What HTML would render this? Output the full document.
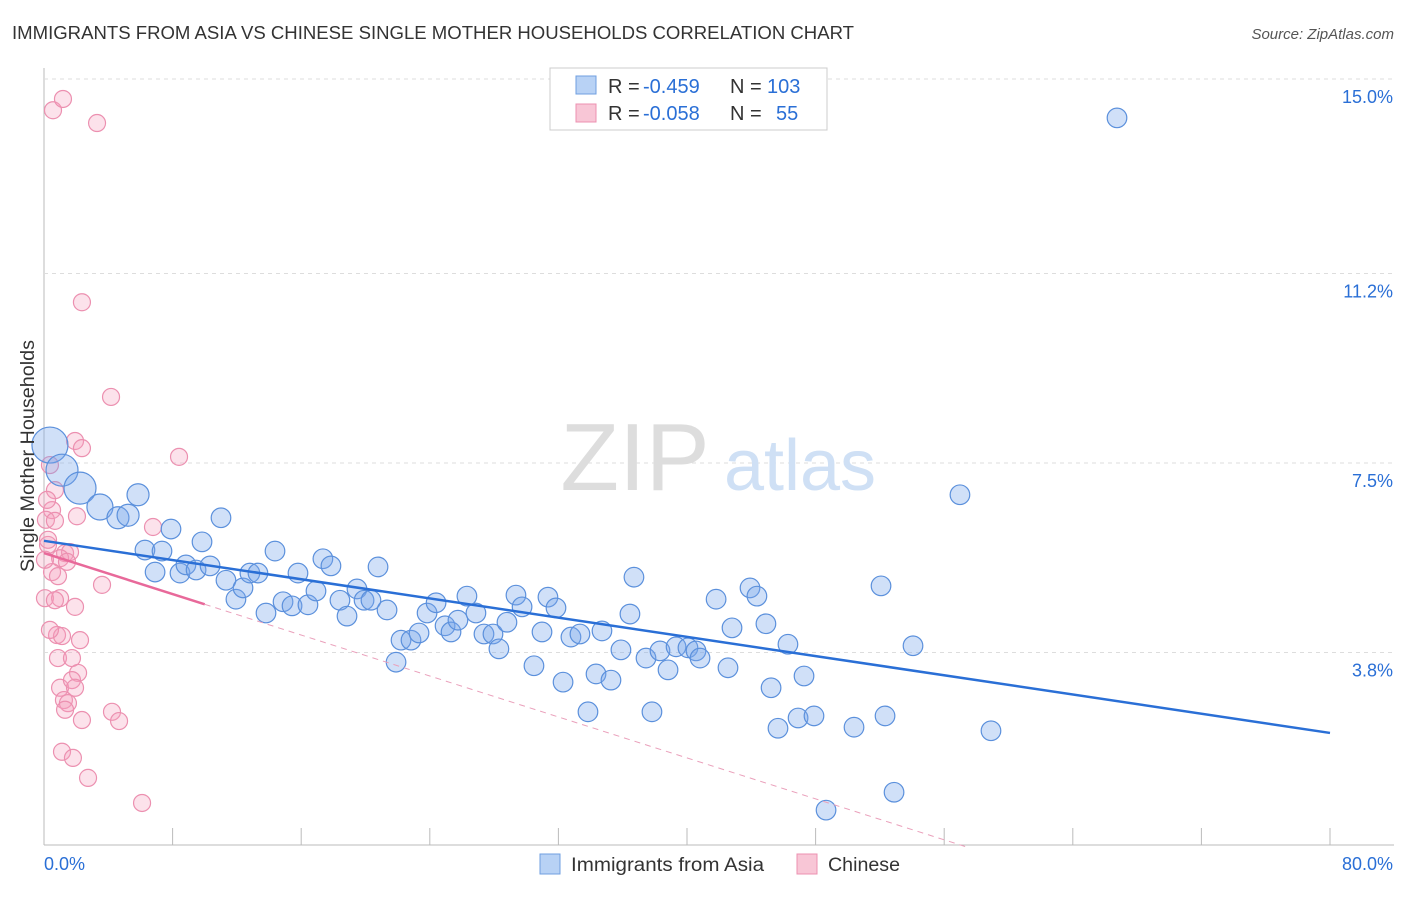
<!DOCTYPE html>
<html><head><meta charset="utf-8"><style>
body{margin:0;background:#fff;font-family:"Liberation Sans",sans-serif;}
svg text{font-family:"Liberation Sans",sans-serif;}
</style></head><body>
<svg id="chart" width="1406" height="892">
<text x="12" y="39" font-size="18" fill="#333" textLength="842" lengthAdjust="spacingAndGlyphs">IMMIGRANTS FROM ASIA VS CHINESE SINGLE MOTHER HOUSEHOLDS CORRELATION CHART</text>
<text x="1394" y="39" font-size="15" fill="#555" text-anchor="end" font-style="italic">Source: ZipAtlas.com</text>
<g id="grid"></g>
<text x="635" y="490" font-size="96" fill="#ddd" text-anchor="middle" font-family="Liberation Serif">ZIP</text>
<text x="800" y="490" font-size="72" fill="#cfe0f5" text-anchor="middle">atlas</text>
<g id="marks"></g>
<text transform="translate(34,456) rotate(-90)" font-size="19" fill="#333" text-anchor="middle" textLength="232" lengthAdjust="spacingAndGlyphs">Single Mother Households</text>
<g>
<rect x="550" y="68" width="277" height="62" fill="#fff" stroke="#ccc"/>
<rect x="576" y="76" width="20" height="18" fill="#b8d2f5" stroke="#6f9fe0"/>
<text x="608" y="93" font-size="20" fill="#333">R =</text>
<text x="643" y="93" font-size="20" fill="#2a6fd6">-0.459</text>
<text x="730" y="93" font-size="20" fill="#333">N =</text>
<text x="767" y="93" font-size="20" fill="#2a6fd6">103</text>
<rect x="576" y="104" width="20" height="18" fill="#f8c6d6" stroke="#ec90b0"/>
<text x="608" y="120" font-size="20" fill="#333">R =</text>
<text x="643" y="120" font-size="20" fill="#2a6fd6">-0.058</text>
<text x="730" y="120" font-size="20" fill="#333">N =</text>
<text x="776" y="120" font-size="20" fill="#2a6fd6">55</text>
</g>
<g>
<rect x="540" y="854" width="20" height="20" fill="#b8d2f5" stroke="#6f9fe0"/>
<text x="571" y="871" font-size="19" fill="#333" textLength="193" lengthAdjust="spacingAndGlyphs">Immigrants from Asia</text>
<rect x="797" y="854" width="20" height="20" fill="#f8c6d6" stroke="#ec90b0"/>
<text x="828" y="871" font-size="19" fill="#333" textLength="72" lengthAdjust="spacingAndGlyphs">Chinese</text>
</g>
</svg>
<script>
const xTicks=[0,8,16,24,32,40,48,56,64,72,80];
const yTicks=[3.8,7.5,11.2,15.0];
const yTickLabels=["3.8%","7.5%","11.2%","15.0%"];
const xEndLabels=["0.0%","80.0%"];
const asiaX=[0.37,1.12,2.24,3.48,4.60,5.23,5.85,6.28,6.91,7.34,7.90,8.46,8.83,9.46,9.83,10.33,11.01,11.32,11.94,12.38,12.81,13.31,13.81,14.37,14.87,15.43,15.80,16.42,16.92,17.35,17.85,18.41,18.85,19.47,19.91,20.34,20.78,21.34,21.90,22.21,22.83,23.33,23.83,24.39,24.95,25.32,25.75,26.31,26.87,27.37,27.93,28.30,28.80,29.36,29.74,30.48,30.98,31.35,31.85,32.29,32.78,33.34,33.84,34.34,34.71,35.27,35.89,36.45,36.70,37.45,37.82,38.32,38.82,39.32,40.06,40.56,40.81,41.81,42.55,42.80,43.92,44.35,44.91,45.23,45.66,46.28,46.91,47.28,47.90,48.65,50.39,52.07,52.32,52.88,54.06,56.98,58.91,66.75];
const asiaY=[7.85,7.36,7.01,6.64,6.43,6.48,6.88,5.80,5.37,5.78,6.21,5.35,5.51,5.41,5.96,5.49,6.43,5.21,4.84,5.06,5.35,5.35,4.57,5.78,4.79,4.71,5.35,4.73,5.00,5.63,5.49,4.82,4.51,5.04,4.82,4.82,5.47,4.63,3.61,4.04,4.04,4.18,4.57,4.77,4.32,4.20,4.43,4.90,4.57,4.16,4.16,3.87,4.39,4.92,4.69,3.54,4.20,4.88,4.67,3.22,4.10,4.16,2.64,3.38,4.22,3.26,3.85,4.55,5.27,3.69,2.64,3.83,3.46,3.91,3.89,3.83,3.69,4.84,3.50,4.28,5.06,4.90,4.36,3.11,2.32,3.96,2.52,3.34,2.56,0.72,2.34,5.10,2.56,1.07,3.93,6.88,2.27,14.24];
const chineseX=[0.56,1.18,3.30,2.36,4.17,1.93,2.36,8.40,0.37,0.68,0.50,0.12,0.68,2.05,6.78,0.25,1.31,1.62,1.00,1.43,0.50,0.87,3.61,0.06,1.00,1.93,0.81,1.12,2.24,0.87,1.74,2.12,1.00,1.74,1.93,1.24,1.49,1.31,2.36,4.23,4.67,1.12,1.80,2.74,6.10,0.19,0.37,0.68,0.06,0.25];
const chineseY=[14.39,14.61,14.14,10.64,8.79,7.93,7.79,7.62,7.46,6.97,6.58,6.39,6.37,6.46,6.25,5.90,5.74,5.76,5.64,5.57,5.37,5.29,5.12,4.86,4.86,4.69,4.14,4.12,4.04,3.69,3.69,3.40,3.11,3.26,3.11,2.87,2.81,2.68,2.48,2.64,2.46,1.86,1.74,1.35,0.86,6.78,4.24,4.82,5.61,6.00];
const asiaFit=[5.98,-0.0469];
const chineseFit=[5.74,-0.1];
const X0=44,X1=1330,Y0=847,PPU=51.2;
const sx=v=>X0+(v/80)*(X1-X0);
const sy=v=>Y0-v*PPU;
const NS="http://www.w3.org/2000/svg";
const grid=document.getElementById('grid'),marks=document.getElementById('marks');
function mk(tag,at,parent){const e=document.createElementNS(NS,tag);for(const k in at)e.setAttribute(k,at[k]);parent.appendChild(e);return e;}
let ax=mk('line',{x1:X0,y1:68,x2:X0,y2:845,stroke:'#bbb'},grid);


let bx=mk('line',{x1:X0,y1:845,x2:1394,y2:845,stroke:'#bbb'},grid);


yTicks.forEach((t,i)=>{
 let g=mk('line',{x1:X0,y1:sy(t),x2:1394,y2:sy(t),stroke:'#ddd','stroke-dasharray':'4,4'},grid);
 
 
 let l=mk('text',{x:1393,y:sy(t)+24,'font-size':18,fill:'#2a6fd6','text-anchor':'end'},grid);l.textContent=yTickLabels[i];
 
 
});
xTicks.forEach((t,i)=>{
 if(i==0)return;
 let g=mk('line',{x1:sx(t),y1:828,x2:sx(t),y2:845,stroke:'#bbb'},grid);
 
 
});
let l0=mk('text',{x:44,y:870,'font-size':18,fill:'#2a6fd6'},grid);l0.textContent=xEndLabels[0];


let l1=mk('text',{x:1393,y:870,'font-size':18,fill:'#2a6fd6','text-anchor':'end'},grid);l1.textContent=xEndLabels[1];


chineseX.forEach((x,i)=>{
 let c=mk('circle',{cx:sx(x),cy:sy(chineseY[i]),r:8.5,fill:'rgba(244,160,188,0.3)',stroke:'#ec90b0','stroke-width':1.2},marks);
 
 
});
asiaX.forEach((x,i)=>{
 const r=i==0?18:i<3?16:i<4?13:i<7?11:9.8;
 let c=mk('circle',{cx:sx(x),cy:sy(asiaY[i]),r:r,fill:'rgba(120,165,235,0.35)',stroke:'#5b90dc','stroke-width':1.2},marks);
 
 
});
let bl=mk('line',{x1:sx(0),y1:sy(asiaFit[0]),x2:sx(80),y2:sy(asiaFit[0]+asiaFit[1]*80),stroke:'#2a6fd6','stroke-width':2.5},marks);


const pEnd=Math.min(80,-chineseFit[0]/chineseFit[1]);
let pl=mk('line',{x1:sx(0),y1:sy(chineseFit[0]),x2:sx(10),y2:sy(chineseFit[0]+chineseFit[1]*10),stroke:'#e8699a','stroke-width':2.5},marks);


let pd=mk('line',{x1:sx(10),y1:sy(chineseFit[0]+chineseFit[1]*10),x2:sx(pEnd),y2:sy(chineseFit[0]+chineseFit[1]*pEnd),stroke:'#eaa0bb','stroke-width':1,'stroke-dasharray':'6,5'},marks);


</script>
</body></html>
